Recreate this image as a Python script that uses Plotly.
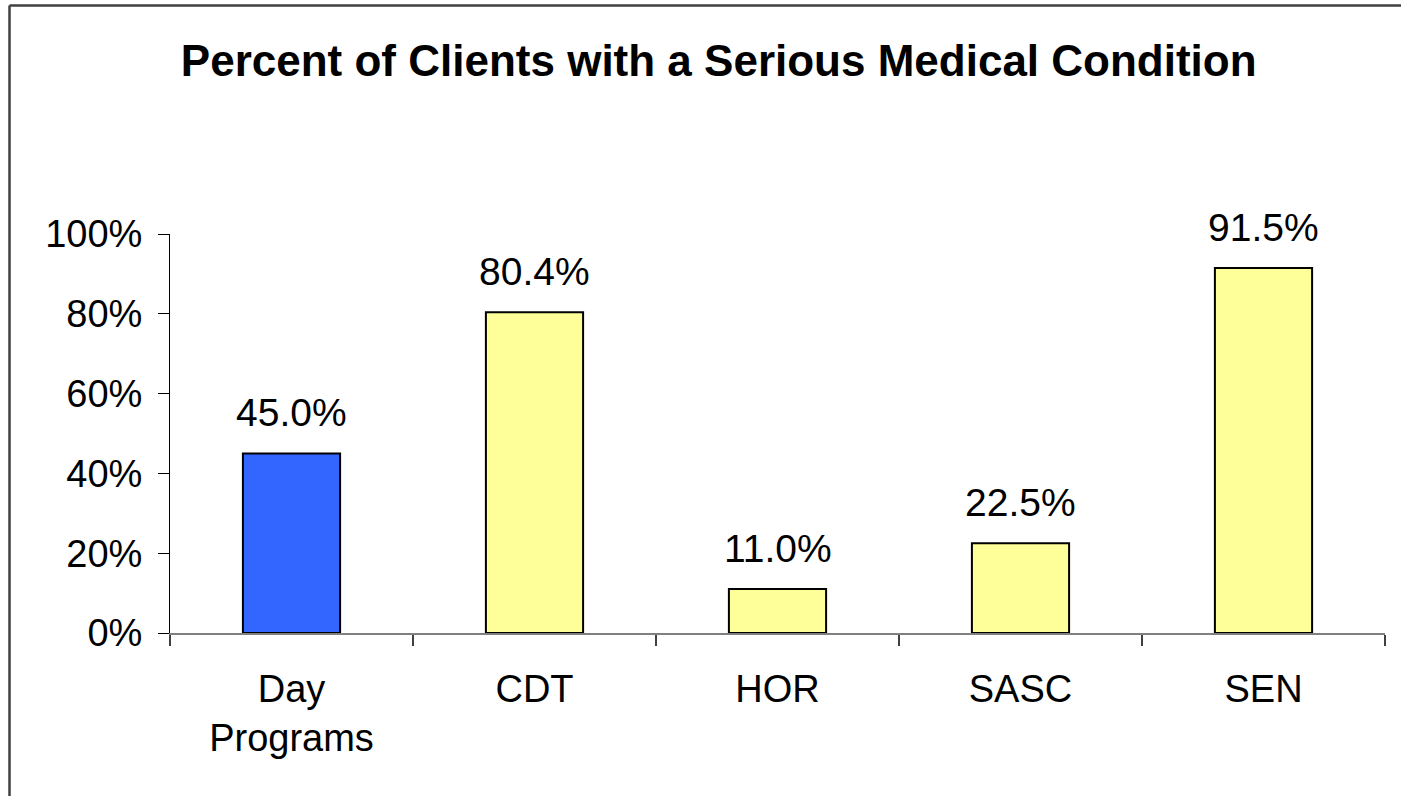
import plotly.graph_objects as go

categories = ["Day<br>Programs", "CDT", "HOR", "SASC", "SEN"]
values = [0.450, 0.804, 0.110, 0.225, 0.915]
bar_colors = ["#3366FF", "#FFFF99", "#FFFF99", "#FFFF99", "#FFFF99"]
ytick_vals = [0, 0.2, 0.4, 0.6, 0.8, 1.0]
ytick_text = ["0%", "20%", "40%", "60%", "80%", "100%"]
title_text = "Percent of Clients with a Serious Medical Condition"

W, H = 1401, 796
ML, MR, MT, MB = 170, 16, 234, 163
FONT = "Liberation Sans, Arial, sans-serif"

fig = go.Figure()
fig.add_trace(go.Bar(
    x=categories, y=values, width=0.4,
    marker=dict(color=bar_colors, line=dict(color="black", width=2)),
    hoverinfo="skip",
))

for c, v in zip(categories, values):
    fig.add_annotation(x=c, y=v, text=f"{v*100:.1f}%", showarrow=False,
                       yanchor="bottom", yshift=17,
                       font=dict(family=FONT, size=39, color="black"))

pw = W - ML - MR
ph = H - MT - MB
# decorative frame (left and top edges)
fx0 = (9.5 - ML) / pw
fy_top = 1 + (MT - 5.5) / ph
fig.add_shape(type="line", xref="paper", yref="paper",
              x0=fx0, x1=fx0, y0=fy_top, y1=-(MB + 20) / ph,
              line=dict(color="#404040", width=2.5))
fig.add_shape(type="line", xref="paper", yref="paper",
              x0=fx0, x1=1 + (MR + 20) / pw, y0=fy_top, y1=fy_top,
              line=dict(color="#404040", width=2.5))

fig.update_layout(
    width=W, height=H,
    margin=dict(l=ML, r=MR, t=MT, b=MB, pad=0),
    paper_bgcolor="white", plot_bgcolor="white",
    showlegend=False,
    title=dict(text=f"<b>{title_text}</b>", x=0.513, xanchor="center",
               y=1 - 61 / H, yanchor="middle", xref="container", yref="container",
               font=dict(family=FONT, size=44, color="black")),
    font=dict(family=FONT, size=38, color="black"),
    xaxis=dict(
        showline=True, linecolor="#808080", linewidth=2,
        ticks="outside", ticklen=11, tickcolor="#404040", tickwidth=1.5,
        tickson="boundaries", showgrid=False, zeroline=False,
        tickfont=dict(family=FONT, size=38, color="black"),
        ticklabelstandoff=21,
    ),
    yaxis=dict(
        range=[0, 1], tickvals=ytick_vals, ticktext=ytick_text,
        showline=True, linecolor="black", linewidth=1,
        ticks="outside", ticklen=11, tickcolor="black", tickwidth=1,
        showgrid=False, zeroline=False,
        tickfont=dict(family=FONT, size=38, color="black"),
        ticklabelstandoff=8,
    ),
)

fig.write_html("out.html", config={"displayModeBar": False},
               post_script="document.body.style.margin='0';")
